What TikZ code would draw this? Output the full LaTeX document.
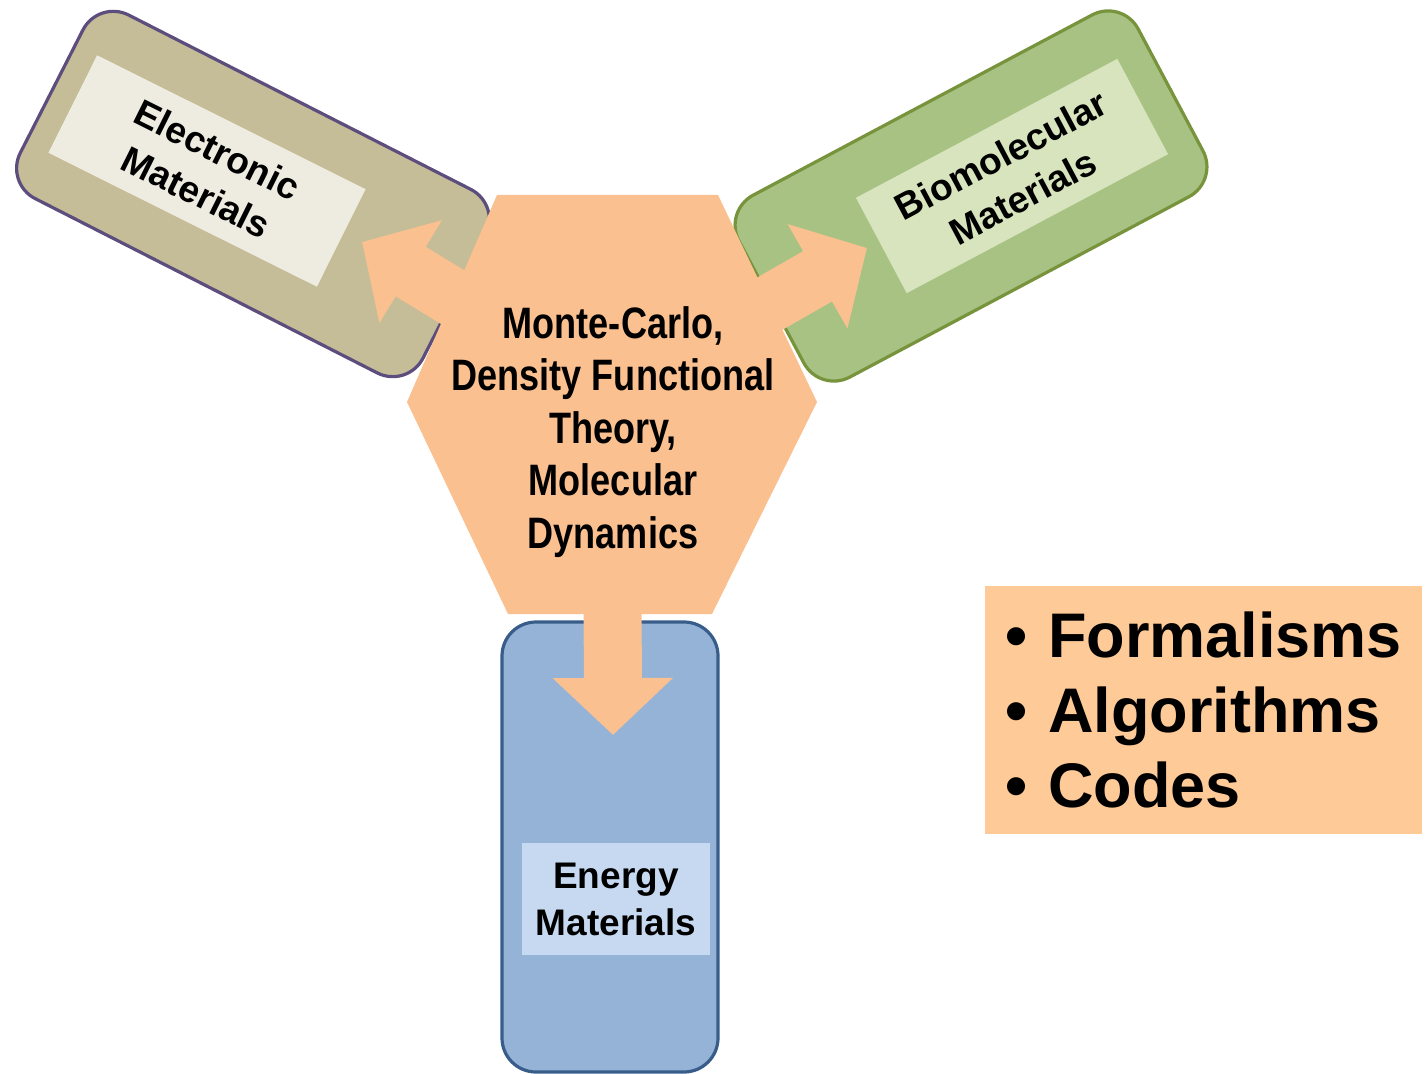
\documentclass[tikz,border=0pt]{standalone}
\usepackage{fontspec}
\setmainfont{Liberation Sans}
\newfontfamily\narrowsf{Liberation Sans}[FakeStretch=0.82]
\usetikzlibrary{arrows.meta,positioning}
\definecolor{hexorange}{HTML}{FAC090}
\definecolor{listorange}{HTML}{FECA98}
\definecolor{elecfill}{HTML}{C4BD97}
\definecolor{elecline}{HTML}{5C4D7D}
\definecolor{eleclabel}{HTML}{EEECE1}
\definecolor{biofill}{HTML}{A8C283}
\definecolor{bioline}{HTML}{77933C}
\definecolor{biolabel}{HTML}{D7E4BD}
\definecolor{enerfill}{HTML}{95B3D7}
\definecolor{enerline}{HTML}{385D8A}
\definecolor{enerlabel}{HTML}{C6D9F1}

\begin{document}
\begin{tikzpicture}[x = 0.5pt, y = -0.5pt,
  holder/.style = {draw, line width = 1.6pt, rounded corners = 17pt},
  tag/.style = {align = center, inner sep = 0pt, font = \bfseries\fontsize{18.5}{23.5}\selectfont},
  flow/.style = {draw = hexorange, line width = 29pt, -{Triangle[length = 28.5pt, width = 58.5pt]}}]
\useasboundingbox (0,0) rectangle (1427,1074);

% the three material boxes
\node[holder, fill = elecfill, draw = elecline, rotate = -27, minimum width = 226pt, minimum height = 103pt] (elec) at (253,194) {};
\node[holder, fill = biofill, draw = bioline, rotate = 28, minimum width = 226pt, minimum height = 103pt] (bio) at (971,196) {};
\node[holder, fill = enerfill, draw = enerline, minimum width = 108pt, minimum height = 225pt] (ener) at (610,847) {};
\node[tag, fill = eleclabel, rotate = -26.5, minimum width = 150pt, minimum height = 54.5pt] (elecl) at (207,171) {Electronic\\Materials};
\node[tag, fill = biolabel, rotate = 28, minimum width = 148pt, minimum height = 54pt] (biol) at (1012,176) {Biomolecular\\Materials};
\node[tag, fill = enerlabel, minimum width = 94pt, minimum height = 56pt] (enerl) at (616,899) {Energy\\Materials};

% hexagon and its arrows
\fill[hexorange] (407,402) -- (497,195) -- (718,195) -- (817,402) -- (712,614) -- (508,614) -- cycle;
\coordinate (hub) at (612,394);
\coordinate (tipE) at (362,242);
\coordinate (tipB) at (867,248);
\coordinate (tipN) at (613,735);
\draw[flow] (hub) -- (tipE);
\draw[flow] (hub) -- (tipB);
\draw[flow] (hub) -- (tipN);
\node[align = center, font = \narrowsf\bfseries\fontsize{22}{26.3}\selectfont] (core) at (613,432) {Monte-Carlo,\\Density Functional\\Theory,\\Molecular\\Dynamics};

\node[fill = listorange, minimum width = 218.5pt, minimum height = 124pt, text width = 198.5pt, inner xsep = 10pt, align = left, font = \bfseries\fontsize{31.5}{37.7}\selectfont] (list) at (1203.5,710) {\textbullet\ Formalisms\\\textbullet\ Algorithms\\\textbullet\ Codes};
\end{tikzpicture}
\end{document}
